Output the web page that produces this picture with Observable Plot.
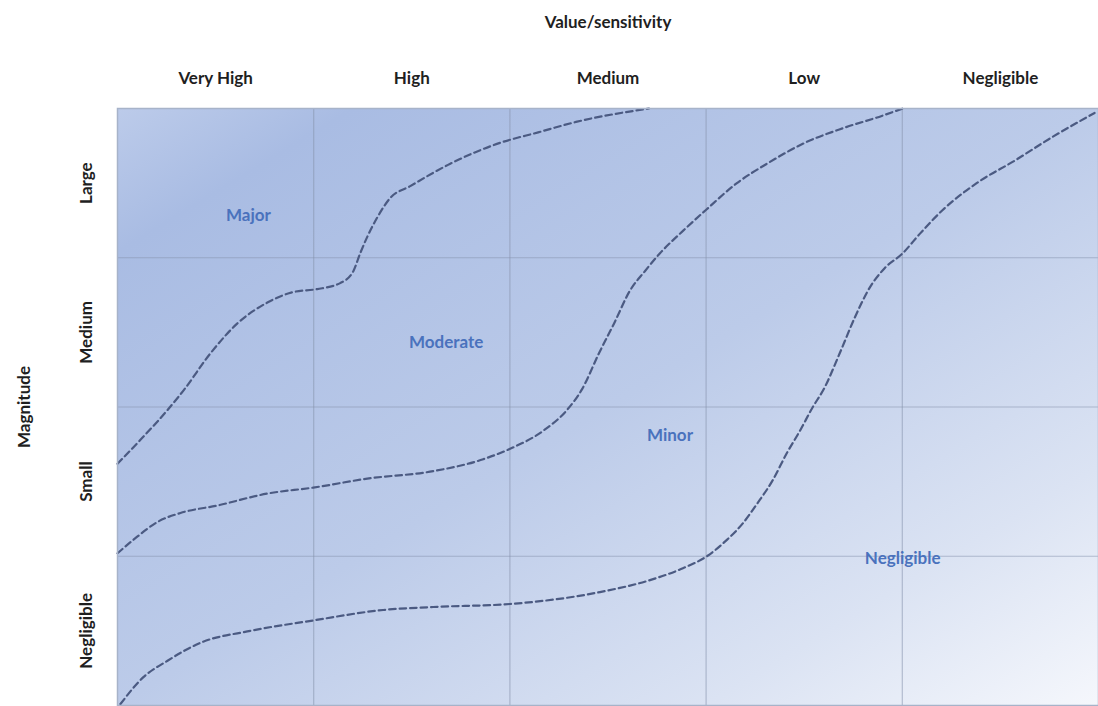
<!DOCTYPE html>
<html>
<head>
<meta charset="utf-8">
<script src="https://cdn.jsdelivr.net/npm/d3@7"></script>
<script src="https://cdn.jsdelivr.net/npm/@observablehq/plot@0.6"></script>
<style>
  html, body { margin: 0; padding: 0; background: #fff; }
</style>
</head>
<body>
<div id="chart"></div>
<script>
// Categories
const cols = ["Very High", "High", "Medium", "Low", "Negligible"];
const rows = ["Negligible", "Small", "Medium", "Large"]; // bottom to top

// Boundary curves (column units, row units)
const majorX = [0, 0.117, 0.255, 0.336, 0.474, 0.611, 0.764, 0.896, 1.018, 1.135, 1.202, 1.237, 1.273, 1.324, 1.39, 1.492, 1.696, 1.95, 2.144, 2.337, 2.709];
const majorY = [1.62, 1.78, 1.98, 2.11, 2.36, 2.56, 2.70, 2.77, 2.79, 2.83, 2.91, 3.03, 3.14, 3.27, 3.40, 3.48, 3.63, 3.77, 3.84, 3.91, 4.0];

const moderateX = [0, 0.081, 0.204, 0.321, 0.509, 0.764, 0.998, 1.273, 1.609, 1.864, 2.001, 2.169, 2.291, 2.368, 2.454, 2.531, 2.612, 2.688, 2.765, 2.882, 2.999, 3.157, 3.31, 3.503, 3.702, 3.895, 4.002];
const moderateY = [1.02, 1.11, 1.23, 1.29, 1.34, 1.42, 1.46, 1.52, 1.57, 1.65, 1.72, 1.84, 1.98, 2.12, 2.36, 2.56, 2.78, 2.91, 3.03, 3.18, 3.32, 3.50, 3.63, 3.77, 3.87, 3.95, 4.0];

const minorX = [0.015, 0.132, 0.255, 0.423, 0.677, 0.998, 1.354, 1.609, 2.001, 2.459, 2.714, 2.882, 3.004, 3.106, 3.187, 3.259, 3.34, 3.411, 3.478, 3.544, 3.6, 3.681, 3.758, 3.834, 3.91, 4.002, 4.089, 4.206, 4.379, 4.572, 4.766, 4.98];
const minorY = [0.01, 0.19, 0.30, 0.42, 0.50, 0.57, 0.64, 0.66, 0.68, 0.76, 0.84, 0.92, 1.00, 1.11, 1.22, 1.35, 1.51, 1.69, 1.84, 2.00, 2.12, 2.36, 2.60, 2.80, 2.93, 3.03, 3.16, 3.32, 3.50, 3.65, 3.81, 3.97];

// Region labels
const regionNames = ["Major", "Moderate", "Minor", "Negligible"];
const regionX = [0.667, 1.675, 2.816, 4.002];
const regionY = [3.28, 2.43, 1.81, 0.985];

const toPts = (xs, ys) => xs.map((x, i) => ({x, y: ys[i]}));
const curves = [toPts(majorX, majorY), toPts(moderateX, moderateY), toPts(minorX, minorY)];
const regions = regionNames.map((name, i) => ({name, x: regionX[i], y: regionY[i]}));

const lineOpts = {x: "x", y: "y", stroke: "#4b5a82", strokeWidth: 2.2, strokeDasharray: "6.5,4", curve: "monotone-x"};

const chart = Plot.plot({
  width: 1098,
  height: 706,
  marginTop: 108,
  marginLeft: 117,
  marginRight: 0,
  marginBottom: 1,
  x: {domain: [0, cols.length]},
  y: {domain: [0, rows.length]},
  style: {fontFamily: "Lato, 'Open Sans', sans-serif", fontSize: "17px", fontWeight: "bold", color: "#1f1f1f", background: "#fff"},
  marks: [
    Plot.frame({fill: "url(#bg)"}),
    Plot.ruleX(d3.range(1, cols.length), {stroke: "#8794ad", strokeOpacity: 0.55, strokeWidth: 1.2}),
    Plot.ruleY(d3.range(1, rows.length), {stroke: "#8794ad", strokeOpacity: 0.55, strokeWidth: 1.2}),
    ...curves.map(c => Plot.line(c, lineOpts)),
    Plot.text(regions, {x: "x", y: "y", text: "name", fill: "#4a72bd", fontSize: 17, fontWeight: "bold"}),
    Plot.axisX(cols.map((d, i) => i + 0.5), {
      anchor: "top", tickSize: 0, tickPadding: 25,
      tickFormat: d => cols[Math.floor(d)],
      label: "Value/sensitivity", labelAnchor: "center", labelArrow: "none", labelOffset: 93
    }),
    Plot.axisY(rows.map((d, i) => i + 0.5), {
      anchor: "left", tickSize: 0, tickPadding: 26, tickRotate: -90,
      tickFormat: d => rows[Math.floor(d)],
      label: "Magnitude", labelAnchor: "center", labelArrow: "none", labelOffset: 100
    }),
    Plot.frame({stroke: "#a7b3c9", strokeWidth: 1.5})
  ]
});

const svgNS = "http://www.w3.org/2000/svg";
const defs = document.createElementNS(svgNS, "defs");
defs.innerHTML = `
  <linearGradient id="bg" x1="0" y1="0" x2="1" y2="1">
    <stop offset="0" stop-color="#bccbea"/>
    <stop offset="0.12" stop-color="#a9bce3"/>
    <stop offset="0.5" stop-color="#bccbe9"/>
    <stop offset="0.8" stop-color="#dbe3f3"/>
    <stop offset="1" stop-color="#f5f7fc"/>
  </linearGradient>`;
chart.insertBefore(defs, chart.firstChild);
document.getElementById("chart").appendChild(chart);
</script>
</body>
</html>
